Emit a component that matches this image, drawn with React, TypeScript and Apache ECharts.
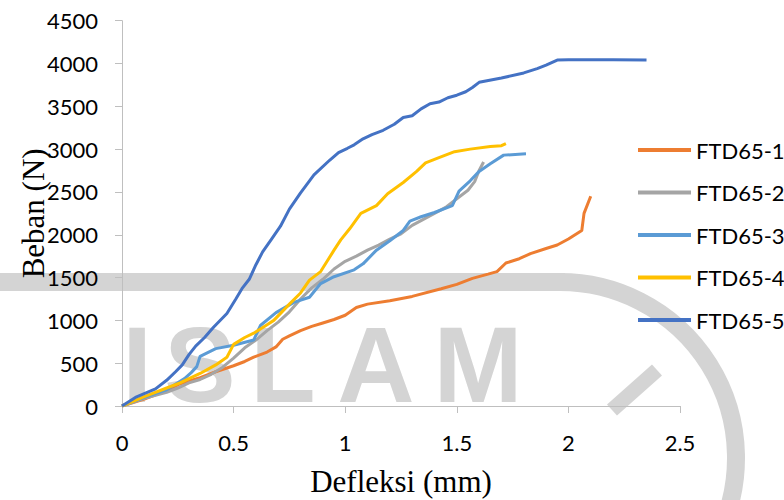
import { useEffect, useRef } from "react";
import * as echarts from "echarts";

// Load–deflection readings, [deflection (mm), load (N)]
const ftd65_1: [number, number][] = [
  [0, 0], [0.1, 80], [0.2, 180], [0.26, 260], [0.35, 330], [0.42, 400], [0.5, 470],
  [0.55, 520], [0.59, 570], [0.65, 630], [0.69, 690], [0.72, 780], [0.75, 820],
  [0.8, 880], [0.85, 930], [0.9, 970], [0.95, 1010], [1.0, 1060], [1.05, 1150],
  [1.1, 1190], [1.2, 1230], [1.3, 1280], [1.43, 1370], [1.5, 1420], [1.57, 1490],
  [1.64, 1540], [1.68, 1570], [1.72, 1670], [1.78, 1720], [1.83, 1780], [1.9, 1840],
  [1.95, 1880], [2.0, 1950], [2.06, 2050], [2.07, 2250], [2.1, 2450],
];

const ftd65_2: [number, number][] = [
  [0, 0], [0.1, 90], [0.2, 160], [0.25, 210], [0.3, 270], [0.35, 310], [0.4, 370],
  [0.45, 450], [0.5, 560], [0.55, 680], [0.6, 770], [0.65, 880], [0.7, 980],
  [0.75, 1100], [0.8, 1250], [0.85, 1380], [0.9, 1480], [0.95, 1600], [1.0, 1690],
  [1.05, 1750], [1.1, 1820], [1.15, 1880], [1.2, 1950], [1.25, 2010], [1.3, 2110],
  [1.35, 2180], [1.4, 2250], [1.45, 2320], [1.5, 2420], [1.55, 2520], [1.58, 2620],
  [1.6, 2750], [1.62, 2850],
];

const ftd65_3: [number, number][] = [
  [0, 0], [0.1, 100], [0.2, 190], [0.28, 320], [0.31, 390], [0.335, 460], [0.35, 580],
  [0.42, 670], [0.5, 710], [0.59, 770], [0.62, 940], [0.69, 1090], [0.77, 1210],
  [0.84, 1270], [0.89, 1430], [0.95, 1510], [1.04, 1590], [1.08, 1660], [1.14, 1820],
  [1.2, 1930], [1.26, 2050], [1.29, 2160], [1.34, 2210], [1.4, 2260], [1.48, 2340],
  [1.51, 2510], [1.56, 2630], [1.6, 2740], [1.65, 2830], [1.71, 2930], [1.81, 2945],
];

const ftd65_4: [number, number][] = [
  [0, 0], [0.1, 110], [0.2, 210], [0.26, 270], [0.35, 380], [0.42, 480], [0.47, 570],
  [0.5, 720], [0.55, 800], [0.59, 850], [0.65, 950], [0.68, 1000], [0.75, 1190],
  [0.8, 1320], [0.84, 1470], [0.89, 1570], [0.95, 1820], [0.98, 1940], [1.02, 2070],
  [1.07, 2250], [1.14, 2340], [1.19, 2480], [1.26, 2610], [1.32, 2740], [1.36, 2840],
  [1.42, 2900], [1.49, 2970], [1.56, 3000], [1.65, 3030], [1.7, 3040], [1.72, 3065],
];

const ftd65_5: [number, number][] = [
  [0, 0], [0.06, 100], [0.15, 200], [0.2, 300], [0.24, 400], [0.27, 480], [0.3, 600],
  [0.33, 700], [0.37, 800], [0.41, 920], [0.47, 1080], [0.51, 1250], [0.54, 1380],
  [0.57, 1480], [0.6, 1650], [0.63, 1800], [0.67, 1950], [0.71, 2100], [0.75, 2300],
  [0.8, 2490], [0.86, 2700], [0.93, 2870], [0.97, 2960], [1.01, 3010], [1.04, 3050],
  [1.08, 3120], [1.12, 3170], [1.17, 3220], [1.22, 3290], [1.26, 3370], [1.3, 3390],
  [1.34, 3470], [1.38, 3530], [1.42, 3550], [1.46, 3600], [1.5, 3630], [1.54, 3670],
  [1.57, 3720], [1.6, 3780], [1.7, 3830], [1.8, 3890], [1.86, 3940], [1.9, 3980],
  [1.95, 4040], [2.0, 4045], [2.2, 4045], [2.35, 4040],
];

const seriesNames = ["FTD65-1", "FTD65-2", "FTD65-3", "FTD65-4", "FTD65-5"];
const seriesData = [ftd65_1, ftd65_2, ftd65_3, ftd65_4, ftd65_5];
const seriesColors = ["#ED7D31", "#A5A5A5", "#5B9BD5", "#FFC000", "#4472C4"];

const xAxisTitle = "Defleksi (mm)";
const yAxisTitle = "Beban (N)";

// Background watermark lettering
const watermarkLetters = ["I", "S", "L", "A", "M"];
const watermarkLetterX = [137, 200, 283, 376, 478];

const WM = "#d4d4d4";

export default function App() {
  const ref = useRef<HTMLDivElement>(null);

  useEffect(() => {
    if (!ref.current) return;
    const chart = echarts.init(ref.current, undefined, { renderer: "svg" });

    const watermark: any[] = [
      {
        type: "rect",
        z: -10,
        silent: true,
        shape: { x: 0, y: 273, width: 565, height: 18 },
        style: { fill: WM },
      },
      {
        type: "arc",
        z: -10,
        silent: true,
        shape: { cx: 560, cy: 458, r: 176, startAngle: -Math.PI / 2, endAngle: 0.45 },
        style: { stroke: WM, lineWidth: 18, fill: "none" },
      },
      {
        type: "line",
        z: -10,
        silent: true,
        shape: { x1: 657, y1: 370, x2: 612, y2: 410 },
        style: { stroke: WM, lineWidth: 15 },
      },
      ...watermarkLetters.map((ch, i) => ({
        type: "text",
        z: -10,
        silent: true,
        style: {
          text: ch,
          x: watermarkLetterX[i],
          y: 418,
          textAlign: "center",
          textVerticalAlign: "bottom",
          fontSize: 107,
          fontWeight: "bold",
          fontFamily: "Liberation Sans",
          fill: WM,
        },
      })),
    ];

    chart.setOption({
      animation: false,
      backgroundColor: "#ffffff",
      grid: {
        left: 122,
        right: 104,
        top: 20.7,
        bottom: 94,
        containLabel: false,
        outerBoundsMode: "none",
      },
      graphic: watermark,
      legend: {
        orient: "vertical",
        left: 633,
        top: 134,
        icon: "rect",
        itemWidth: 53,
        itemHeight: 4,
        itemGap: 20.5,
        data: seriesNames,
        textStyle: { fontFamily: "Lato", fontSize: 22, color: "#000", lineHeight: 22 },
      },
      xAxis: {
        type: "value",
        min: 0,
        max: 2.5,
        interval: 0.5,
        name: xAxisTitle,
        nameLocation: "middle",
        nameGap: 60,
        nameMoveOverlap: false,
        nameTextStyle: { fontFamily: "Liberation Serif", fontSize: 31, color: "#000" },
        axisLine: { show: true, lineStyle: { color: "#BFBFBF", width: 1 } },
        axisTick: { show: true, length: 7, lineStyle: { color: "#BFBFBF" } },
        splitLine: { show: false },
        axisLabel: {
          margin: 25,
          fontFamily: "Lato",
          fontSize: 22,
          color: "#000",
          formatter: (v: number) => String(v),
        },
      },
      yAxis: {
        type: "value",
        min: 0,
        max: 4500,
        interval: 500,
        name: yAxisTitle,
        nameLocation: "middle",
        nameGap: 73,
        nameMoveOverlap: false,
        nameTextStyle: { fontFamily: "Liberation Serif", fontSize: 31, color: "#000" },
        axisLine: { show: true, lineStyle: { color: "#BFBFBF", width: 1 } },
        axisTick: { show: true, length: 7, lineStyle: { color: "#BFBFBF" } },
        splitLine: { show: false },
        axisLabel: {
          margin: 24,
          fontFamily: "Lato",
          fontSize: 22,
          color: "#000",
          formatter: (v: number) => String(v),
        },
      },
      series: seriesNames.map((name, i) => ({
        name,
        type: "line",
        data: seriesData[i],
        showSymbol: false,
        symbol: "none",
        color: seriesColors[i],
        lineStyle: { color: seriesColors[i], width: 3 },
        z: 2 + i,
      })),
    });

    return () => chart.dispose();
  }, []);

  return (
    <div
      ref={ref}
      style={{ position: "absolute", left: 0, top: 0, width: 784, height: 500 }}
    />
  );
}
